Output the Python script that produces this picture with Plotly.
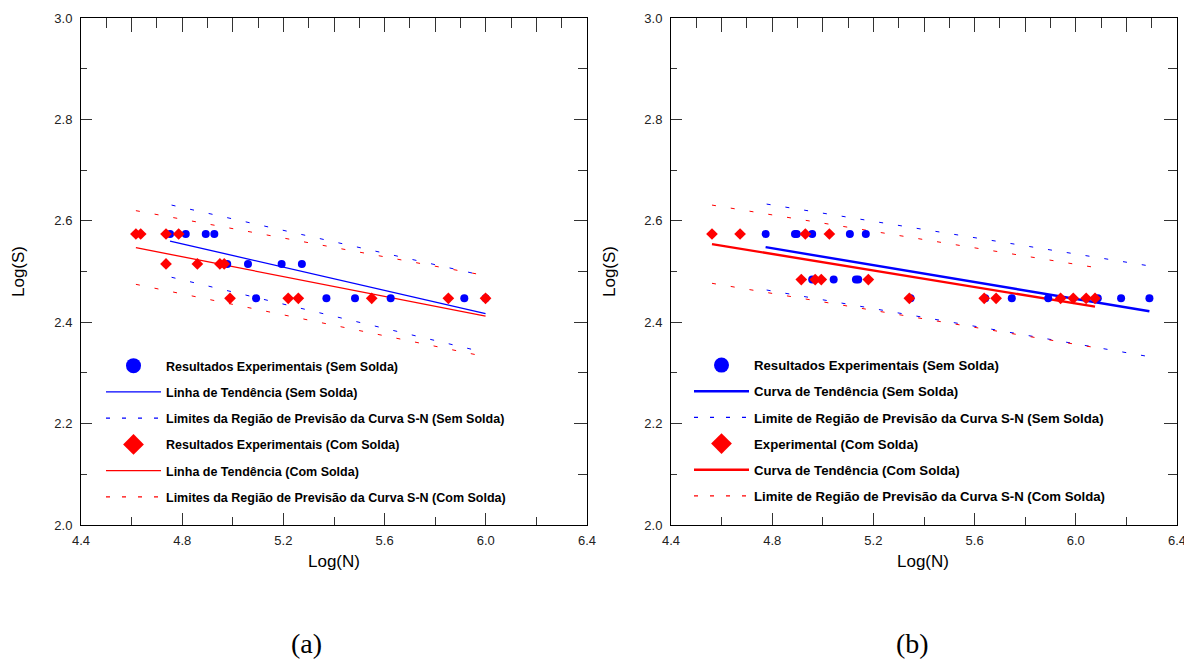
import plotly.graph_objects as go

# ---------------- data ----------------
# Panel (a)
a_sem_x = [4.752, 4.814, 4.893, 4.927, 4.978, 5.060, 5.193, 5.273,
           5.092, 5.370, 5.483, 5.624, 5.915, 5.999]
a_sem_y = [2.574, 2.574, 2.574, 2.574, 2.515, 2.515, 2.515, 2.515,
           2.447, 2.447, 2.447, 2.447, 2.447, 2.447]
a_com_x = [4.617, 4.636, 4.736, 4.786, 4.736, 4.860, 4.949, 4.966,
           4.989, 5.219, 5.259, 5.549, 5.852, 5.999]
a_com_y = [2.574, 2.574, 2.574, 2.574, 2.515, 2.515, 2.515, 2.515,
           2.447, 2.447, 2.447, 2.447, 2.447, 2.447]
a_sem_fit_x = [4.752, 5.999]
a_sem_fit_y = [2.560, 2.417]
a_sem_band_x = [4.758, 5.999]
a_sem_up_y = [2.631, 2.491]
a_sem_lo_y = [2.4886, 2.340]
a_com_fit_x = [4.617, 5.999]
a_com_fit_y = [2.547, 2.412]
a_com_band_x = [4.617, 5.999]
a_com_up_y = [2.620, 2.492]
a_com_lo_y = [2.4747, 2.332]

# Panel (b)
b_sem_x = [4.774, 4.890, 4.897, 4.958, 5.107, 5.170,
           4.958, 5.043, 5.131, 5.140,
           5.347, 5.642, 5.747, 5.891, 6.087, 6.179, 6.291]
b_sem_y = [2.574, 2.574, 2.574, 2.574, 2.574, 2.574,
           2.484, 2.484, 2.484, 2.484,
           2.447, 2.447, 2.447, 2.447, 2.447, 2.447, 2.447]
b_com_x = [4.562, 4.673, 4.931, 5.026,
           4.915, 4.970, 4.994, 5.180,
           5.342, 5.638, 5.685, 5.940, 5.990, 6.041, 6.076]
b_com_y = [2.574, 2.574, 2.574, 2.574,
           2.484, 2.484, 2.484, 2.484,
           2.447, 2.447, 2.447, 2.447, 2.447, 2.447, 2.447]
b_sem_fit_x = [4.774, 6.291]
b_sem_fit_y = [2.548, 2.4215]
b_sem_band_x = [4.778, 6.291]
b_sem_up_y = [2.633, 2.511]
b_sem_lo_y = [2.4635, 2.332]
b_com_fit_x = [4.562, 6.076]
b_com_fit_y = [2.554, 2.4306]
b_com_band_x = [4.562, 6.076]
b_com_up_y = [2.631, 2.508]
b_com_lo_y = [2.4767, 2.350]

legend_a = ["Resultados Experimentais (Sem Solda)",
            "Linha de Tendência (Sem Solda)",
            "Limites da Região de Previsão da Curva S-N (Sem Solda)",
            "Resultados Experimentais (Com Solda)",
            "Linha de Tendência (Com Solda)",
            "Limites da Região de Previsão da Curva S-N (Com Solda)"]
legend_b = ["Resultados Experimentais (Sem Solda)",
            "Curva de Tendência (Sem Solda)",
            "Limite de Região de Previsão da Curva S-N (Sem Solda)",
            "Experimental (Com Solda)",
            "Curva de Tendência (Com Solda)",
            "Limite de Região de Previsão da Curva S-N (Com Solda)"]

BLUE = "#0000FF"
RED = "#FF0000"
DASH = "4px,15px"
SANS = "Liberation Sans, Arial, sans-serif"
SERIF = "Liberation Serif"

W, H = 1192, 660
OFF = 8  # page body margin of the html page

fig = go.Figure()


def band(xs, up, lo):
    return [xs[0], xs[1], None, xs[0], xs[1]], [up[0], up[1], None, lo[0], lo[1]]


def add_panel(xa, ya, leg, names, sem_x, sem_y, com_x, com_y,
              sfx, sfy, sbx, sup, slo, cfx, cfy, cbx, cup, clo, lw):
    common = dict(xaxis=xa, yaxis=ya, showlegend=False, hoverinfo="skip")
    bx, by = band(sbx, sup, slo)
    fig.add_trace(go.Scatter(x=bx, y=by, mode="lines",
                             line=dict(color=BLUE, width=1, dash=DASH), **common))
    bx, by = band(cbx, cup, clo)
    fig.add_trace(go.Scatter(x=bx, y=by, mode="lines",
                             line=dict(color=RED, width=1, dash=DASH), **common))
    fig.add_trace(go.Scatter(x=sfx, y=sfy, mode="lines",
                             line=dict(color=BLUE, width=lw), **common))
    fig.add_trace(go.Scatter(x=cfx, y=cfy, mode="lines",
                             line=dict(color=RED, width=lw), **common))
    fig.add_trace(go.Scatter(x=sem_x, y=sem_y, mode="markers",
                             marker=dict(color=BLUE, size=8, symbol="circle"), **common))
    fig.add_trace(go.Scatter(x=com_x, y=com_y, mode="markers",
                             marker=dict(color=RED, size=9, symbol="diamond"), **common))
    # legend-only entries
    styles = [
        dict(mode="markers", marker=dict(color=BLUE, size=15, symbol="circle")),
        dict(mode="lines", line=dict(color=BLUE, width=lw)),
        dict(mode="lines", line=dict(color=BLUE, width=1.2, dash="4px,12px")),
        dict(mode="markers", marker=dict(color=RED, size=16, symbol="diamond")),
        dict(mode="lines", line=dict(color=RED, width=lw)),
        dict(mode="lines", line=dict(color=RED, width=1.2, dash="4px,12px")),
    ]
    for i, (nm, st) in enumerate(zip(names, styles)):
        fig.add_trace(go.Scatter(x=[None], y=[None], name=nm, legend=leg,
                                 legendgroup=f"{leg}_{i}", xaxis=xa, yaxis=ya,
                                 hoverinfo="skip", **st))


add_panel("x", "y", "legend", legend_a, a_sem_x, a_sem_y, a_com_x, a_com_y,
          a_sem_fit_x, a_sem_fit_y, a_sem_band_x, a_sem_up_y, a_sem_lo_y,
          a_com_fit_x, a_com_fit_y, a_com_band_x, a_com_up_y, a_com_lo_y, 1.3)
add_panel("x2", "y2", "legend2", legend_b, b_sem_x, b_sem_y, b_com_x, b_com_y,
          b_sem_fit_x, b_sem_fit_y, b_sem_band_x, b_sem_up_y, b_sem_lo_y,
          b_com_fit_x, b_com_fit_y, b_com_band_x, b_com_up_y, b_com_lo_y, 2.4)

# dummy traces for the mirrored tick axes (top / right)
for xa, ya in [("x3", "y3"), ("x4", "y4")]:
    fig.add_trace(go.Scatter(x=[None], y=[None], xaxis=xa, yaxis=ya,
                             showlegend=False, hoverinfo="skip"))


def px_x(p):
    return (p - OFF) / W


def px_y(p):
    return 1 - (p - OFF) / H


dom_a = [px_x(81), px_x(587)]
dom_b = [px_x(671), px_x(1177)]
dom_y = [px_y(525), px_y(18)]
tickfont = dict(family=SANS, size=13, color="#222")


def xaxis_bottom(dom, anchor):
    return dict(domain=dom, anchor=anchor, range=[4.4, 6.4], tick0=4.4, dtick=0.4,
                tickformat=".1f", ticks="inside", ticklen=12, tickcolor="#333",
                minor=dict(dtick=0.2, tick0=4.4, ticks="inside", ticklen=8, tickcolor="#333"),
                showline=True, linecolor="black", linewidth=1, showgrid=False,
                zeroline=False, tickfont=tickfont, ticklabelstandoff=3,
                automargin=False, fixedrange=True)


def yaxis_left(dom, anchor):
    return dict(domain=dom, anchor=anchor, range=[2.0, 3.0], tick0=2.0, dtick=0.2,
                tickformat=".1f", ticks="inside", ticklen=11, tickcolor="#333",
                minor=dict(dtick=0.1, tick0=2.0, ticks="inside", ticklen=6, tickcolor="#333"),
                showline=True, linecolor="black", linewidth=1, showgrid=False,
                zeroline=False, tickfont=tickfont, ticklabelstandoff=5,
                automargin=False, fixedrange=True)


def xaxis_top(over, anchor):
    return dict(overlaying=over, anchor=anchor, side="top", range=[4.4, 6.4],
                tick0=4.4, dtick=0.2, ticks="inside", ticklen=14, tickcolor="#333",
                minor=dict(dtick=0.1, tick0=4.4, ticks="inside", ticklen=10, tickcolor="#333"),
                showticklabels=False, showline=True, linecolor="black", linewidth=1,
                showgrid=False, zeroline=False, automargin=False, fixedrange=True)


def yaxis_right(over, anchor):
    return dict(overlaying=over, anchor=anchor, side="right", range=[2.0, 3.0],
                tick0=2.0, dtick=0.2, ticks="inside", ticklen=13, tickcolor="#333",
                minor=dict(dtick=0.1, tick0=2.0, ticks="inside", ticklen=9, tickcolor="#333"),
                showticklabels=False, showline=True, linecolor="black", linewidth=1,
                showgrid=False, zeroline=False, automargin=False, fixedrange=True)


leg_common = dict(yanchor="top", xanchor="left",
                  bgcolor="rgba(0,0,0,0)", itemwidth=55,
                  itemclick=False, itemdoubleclick=False)

ann_font = dict(family=SANS, size=17, color="black")
cap_font = dict(family=SERIF, size=28, color="black")


def ann(text, px, py, font, angle=0):
    return dict(text=text, x=px_x(px), y=px_y(py), xref="paper", yref="paper",
                xanchor="center", yanchor="middle", showarrow=False,
                textangle=angle, font=font)


fig.update_layout(
    width=W, height=H,
    margin=dict(l=0, r=0, t=0, b=0, pad=0, autoexpand=False),
    paper_bgcolor="white", plot_bgcolor="white",
    showlegend=True,
    xaxis=xaxis_bottom(dom_a, "y"),
    yaxis=yaxis_left(dom_y, "x"),
    xaxis2=xaxis_bottom(dom_b, "y2"),
    yaxis2=yaxis_left(dom_y, "x2"),
    xaxis3=xaxis_top("x", "y"),
    yaxis3=yaxis_right("y", "x"),
    xaxis4=xaxis_top("x2", "y2"),
    yaxis4=yaxis_right("y2", "x2"),
    legend=dict(x=px_x(101), y=px_y(351), tracegroupgap=7,
                font=dict(family=SANS, size=12.5, color="black", weight="bold"),
                **leg_common),
    legend2=dict(x=px_x(689), y=px_y(350), tracegroupgap=6,
                 font=dict(family=SANS, size=13.2, color="black", weight="bold"),
                 **leg_common),
    annotations=[
        ann("Log(N)", 334, 561, ann_font),
        ann("Log(N)", 923, 561, ann_font),
        ann("Log(S)", 18, 272, ann_font, -90),
        ann("Log(S)", 609, 272, ann_font, -90),
        ann("(a)", 306, 643, cap_font),
        ann("(b)", 912, 643, cap_font),
    ],
)

fig.write_html("out.html")
